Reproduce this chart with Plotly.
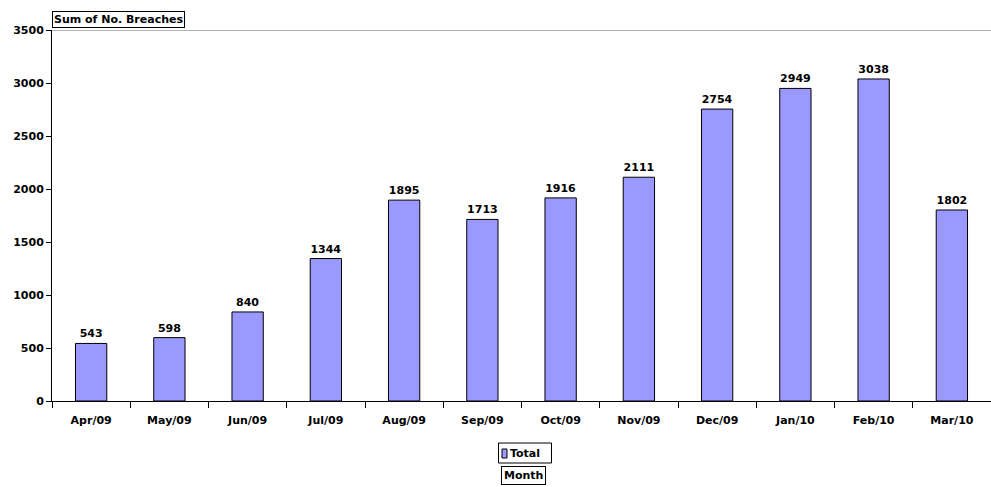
import plotly.graph_objects as go

months = ["Apr/09", "May/09", "Jun/09", "Jul/09", "Aug/09", "Sep/09",
          "Oct/09", "Nov/09", "Dec/09", "Jan/10", "Feb/10", "Mar/10"]
breaches = [543, 598, 840, 1344, 1895, 1713, 1916, 2111, 2754, 2949, 3038, 1802]
y_ticks = [0, 500, 1000, 1500, 2000, 2500, 3000, 3500]

FONT = "DejaVu Sans, Verdana, sans-serif"
BAR_COLOR = "#9999FF"
W, H = 991, 487
L, R, T, B = 52, 0, 30, 86
PW, PH = W - L - R, H - T - B


def px(x):
    """Pixel column -> paper x."""
    return (x - L) / PW


def py(y):
    """Pixel row -> paper y."""
    return (H - B - y) / PH


fig = go.Figure(go.Bar(
    x=months, y=breaches, name="Total", showlegend=False,
    marker=dict(color=BAR_COLOR, line=dict(color="#000000", width=1)),
    text=[f"<b>{v}</b>" for v in breaches], textposition="outside",
    constraintext="none", cliponaxis=False,
    textfont=dict(family=FONT, size=11, color="#000000"),
))

fig.update_layout(
    width=W, height=H,
    margin=dict(l=L, r=R, t=T, b=B),
    paper_bgcolor="white", plot_bgcolor="white",
    bargap=0.6,
    font=dict(family=FONT, size=11, color="#000000"),
    showlegend=False,
    xaxis=dict(
        showline=True, linecolor="#000000", linewidth=1,
        ticks="outside", tickson="boundaries", ticklen=6, tickcolor="#000000",
        tickangle=0, ticklabelstandoff=9,
        tickvals=months, ticktext=[f"<b>{m}</b>" for m in months],
        tickfont=dict(family=FONT, size=11, color="#000000"),
        showgrid=False,
    ),
    yaxis=dict(
        range=[0, 3500], tickvals=y_ticks,
        ticktext=[f"<b>{v}</b>" for v in y_ticks],
        showline=True, linecolor="#000000", linewidth=1,
        ticks="outside", ticklen=5, tickcolor="#000000",
        tickfont=dict(family=FONT, size=11, color="#000000"),
        showgrid=False, zeroline=False,
    ),
    shapes=[
        # top border of the plot area
        dict(type="line", xref="paper", yref="y", x0=0, x1=1, y0=3500, y1=3500,
             line=dict(color="#999999", width=1.5)),
        # legend box
        dict(type="rect", xref="paper", yref="paper",
             x0=px(498.5), x1=px(551.5), y0=py(443), y1=py(463),
             line=dict(color="#000000", width=1), fillcolor="white"),
        # legend swatch
        dict(type="rect", xref="paper", yref="paper",
             x0=px(502), x1=px(507), y0=py(449), y1=py(458),
             line=dict(color="#000000", width=1), fillcolor=BAR_COLOR),
    ],
    annotations=[
        dict(text="<b>Sum of No. Breaches</b>", xref="paper", yref="paper",
             x=0, y=1, xanchor="left", yanchor="bottom", yshift=2, showarrow=False,
             bordercolor="#000000", borderwidth=1, borderpad=1, bgcolor="white",
             font=dict(family=FONT, size=11, color="#000000")),
        dict(text="<b>Total</b>", xref="paper", yref="paper",
             x=px(508), y=py(453), xanchor="left", yanchor="middle", showarrow=False,
             font=dict(family=FONT, size=11, color="#000000")),
        dict(text="<b>Month</b>", xref="paper", yref="paper",
             x=px(523), y=py(475), xanchor="center", yanchor="middle", showarrow=False,
             bordercolor="#000000", borderwidth=1, borderpad=2, bgcolor="white",
             font=dict(family=FONT, size=11, color="#000000")),
    ],
)

fig.write_html("out.html")
